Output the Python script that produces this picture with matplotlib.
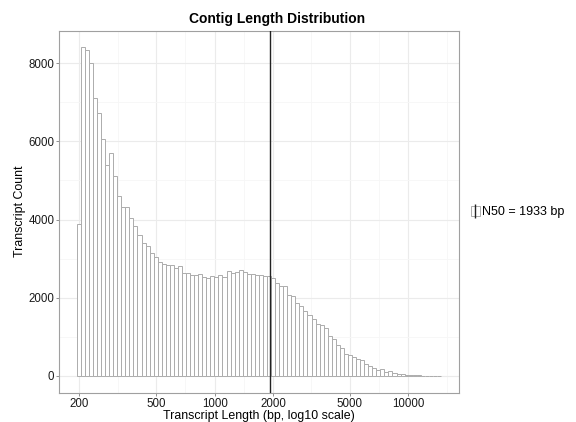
import numpy as np
import matplotlib
matplotlib.use("Agg")
import matplotlib.pyplot as plt
from matplotlib.patches import Patch
from matplotlib.lines import Line2D
from matplotlib.ticker import NullFormatter

plt.rcParams['font.family'] = ['Liberation Sans', 'DejaVu Sans']

# histogram of contig lengths, 90 bins equally spaced in log10
min_len = 194
max_len = 14770
counts = [3880, 8410, 8340, 8015, 7100, 6735, 6055, 5400, 5705, 5115,
          4610, 4330, 4330, 4030, 3840, 3600, 3400, 3330, 3150, 3050,
          2920, 2860, 2835, 2835, 2770, 2800, 2630, 2640, 2580, 2580,
          2600, 2520, 2500, 2545, 2535, 2590, 2540, 2685, 2640, 2650,
          2700, 2650, 2600, 2610, 2590, 2580, 2555, 2560, 2500, 2365,
          2300, 2310, 2060, 2030, 1860, 1780, 1650, 1560, 1450, 1320,
          1300, 1220, 1010, 940, 780, 710, 560, 520, 490, 435,
          400, 310, 250, 190, 135, 180, 90, 110, 65, 45,
          35, 20, 12, 8, 6, 4, 3, 2, 2, 1]
n50 = 1933

x_ticks = [200, 500, 1000, 2000, 5000, 10000]
x_minor = [316, 707, 1414, 3162, 7071, 15811]
y_ticks = [0, 2000, 4000, 6000, 8000]
y_minor = [1000, 3000, 5000, 7000]

edges = np.logspace(np.log10(min_len), np.log10(max_len), len(counts) + 1)
centers = np.sqrt(edges[:-1] * edges[1:])

fig = plt.figure(figsize=(5.76, 4.22), dpi=100)
ax = fig.add_axes([59.3 / 576, 1 - 392.7 / 422, 400 / 576, 362 / 422])

ax.hist(centers, bins=edges, weights=counts, color='white',
        edgecolor='#acacac', linewidth=0.7, zorder=2)
ax.axvline(n50, color='#222222', linewidth=1.0, zorder=3)

ax.set_xscale('log')
ax.set_xlim(157.6, 18357)
ax.set_ylim(-435, 8835)

ax.set_xticks(x_ticks)
ax.set_xticklabels([str(t) for t in x_ticks])
ax.set_xticks(x_minor, minor=True)
ax.xaxis.set_minor_formatter(NullFormatter())
ax.set_yticks(y_ticks)
ax.set_yticklabels([str(t) for t in y_ticks])
ax.set_yticks(y_minor, minor=True)

ax.set_axisbelow(True)
ax.grid(True, which='major', color='#ebebeb', linewidth=0.8)
ax.grid(True, which='minor', color='#f6f6f6', linewidth=0.6)
ax.tick_params(which='major', direction='out', length=2, width=0.6,
               color='#7f7f7f', labelsize=8.3, labelcolor='#1a1a1a', pad=1.6)
ax.tick_params(which='minor', length=0)
for s in ax.spines.values():
    s.set_color('#a0a0a0')
    s.set_linewidth(0.8)

ax.set_xlabel('Transcript Length (bp, log10 scale)', fontsize=8.9, labelpad=0.5)
ax.set_ylabel('Transcript Count', fontsize=8.9, labelpad=2)
fig.text(277 / 576, 1 - 19 / 422, 'Contig Length Distribution',
         fontsize=10, fontweight='bold', ha='center', va='center')

key = (Patch(facecolor='white', edgecolor='#acacac', linewidth=0.7),
       Line2D([], [], color='#222222', marker='|', linestyle='None',
              markersize=10, markeredgewidth=1.0))
fig.legend([key], ['N50 = 1933 bp'], loc='center left',
           bbox_to_anchor=(470.5 / 576, 1 - 212 / 422), frameon=False,
           fontsize=9, handlelength=0.75, handleheight=0.8,
           handletextpad=0.15, borderpad=0, borderaxespad=0)

fig.savefig('out.png', dpi=100)
